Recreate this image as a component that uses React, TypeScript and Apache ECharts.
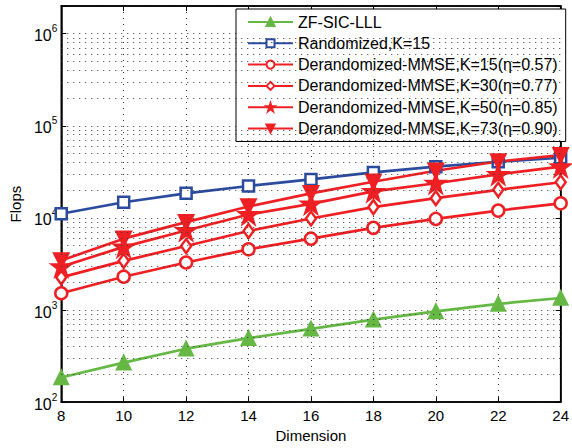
import React, { useEffect, useRef } from "react";
import * as echarts from "echarts";

const dims = [8, 10, 12, 14, 16, 18, 20, 22, 24];
const zfSicLll = [185, 268, 380, 495, 625, 785, 965, 1165, 1350];
const randomizedK15 = [11100, 14800, 18500, 22200, 26200, 31200, 36000, 40700, 45000];
const derandK15 = [1520, 2300, 3280, 4560, 5950, 7800, 9750, 12000, 14400];
const derandK30 = [2260, 3420, 4950, 7200, 9850, 13100, 16400, 20200, 24400];
const derandK50 = [2950, 4850, 7300, 10900, 14200, 19400, 23800, 29700, 36000];
const derandK73 = [3450, 5950, 9000, 13300, 18500, 24700, 32500, 41000, 48000];
const seriesNames = [
  "ZF-SIC-LLL",
  "Randomized,K=15",
  "Derandomized-MMSE,K=15(η=0.57)",
  "Derandomized-MMSE,K=30(η=0.77)",
  "Derandomized-MMSE,K=50(η=0.85)",
  "Derandomized-MMSE,K=73(η=0.90)",
];
const minorGridValues = [
  200, 300, 400, 500, 600, 700, 800, 900,
  2000, 3000, 4000, 5000, 6000, 7000, 8000, 9000,
  20000, 30000, 40000, 50000, 60000, 70000, 80000, 90000,
  200000, 300000, 400000, 500000, 600000, 700000, 800000, 900000,
];

const FONT = "'Liberation Sans', Arial, Helvetica, sans-serif";
const GREEN = "#66b845";
const BLUE = "#2a4b9e";
const RED = "#ee2024";
const GRID = { color: "#333", type: [1, 5] as number[], width: 1 };
const STAR =
  "path://M50,0 L61.2,34.5 L97.6,34.5 L68.2,55.9 L79.4,90.5 L50,69.1 L20.6,90.5 L31.8,55.9 L2.4,34.5 L38.8,34.5 Z";

export default function App() {
  const ref = useRef<HTMLDivElement>(null);
  useEffect(() => {
    document.body.style.margin = "0";
    const chart = echarts.init(ref.current!, undefined, { renderer: "svg" });
    const pts = (arr: number[]) => dims.map((d, i) => [d, arr[i]]);
    const mk = (
      name: string,
      data: number[],
      color: string,
      symbol: string,
      size: number | number[],
      filled: boolean,
      rotate = 0
    ) => ({
      name,
      type: "line",
      data: pts(data),
      symbol,
      symbolSize: size,
      symbolRotate: rotate,
      showAllSymbol: true,
      lineStyle: { color, width: 2.7 },
      itemStyle: {
        color: filled ? color : "#ffffff",
        borderColor: color,
        borderWidth: 2.5,
      },
      emphasis: { disabled: true },
      z: 3,
    });
    const ticksStyle = { lineStyle: { color: "#000", width: 1 } };
    chart.setOption({
      animation: false,
      backgroundColor: "#ffffff",
      grid: {
        left: 57,
        right: 5,
        top: 6,
        bottom: 43,
        show: true,
        borderColor: "#000",
        borderWidth: 1.5,
        backgroundColor: "#fff",
      },
      legend: {
        orient: "vertical",
        left: 236,
        top: 9,
        itemWidth: 45,
        itemHeight: 10,
        itemGap: 5.3,
        padding: [5, 8, 5, 11],
        backgroundColor: "#fff",
        borderColor: "#000",
        borderWidth: 1,
        textStyle: { fontSize: 16, fontFamily: FONT, color: "#000", lineHeight: 16 },
        data: seriesNames,
      },
      xAxis: [
        {
          type: "value",
          min: 8,
          max: 24,
          interval: 2,
          position: "bottom",
          name: "Dimension",
          nameLocation: "middle",
          nameGap: 24,
          nameTextStyle: { fontSize: 15, fontFamily: FONT, color: "#000" },
          axisLine: { show: true, lineStyle: { color: "#000", width: 1.5 } },
          axisTick: { inside: true, length: 5, ...ticksStyle },
          axisLabel: { fontSize: 15, fontFamily: FONT, color: "#000", margin: 6 },
          splitLine: { show: true, lineStyle: GRID },
        },
        {
          type: "value",
          min: 8,
          max: 24,
          interval: 2,
          position: "top",
          axisLine: { show: true, lineStyle: { color: "#000", width: 1.5 } },
          axisTick: { inside: true, length: 5, ...ticksStyle },
          axisLabel: { show: false },
          splitLine: { show: false },
        },
      ],
      yAxis: [
        {
          type: "log",
          logBase: 10,
          min: 100,
          max: 2000000,
          position: "left",
          name: "Flops",
          nameLocation: "middle",
          nameGap: 30,
          nameRotate: 90,
          nameTextStyle: { fontSize: 15, fontFamily: FONT, color: "#000" },
          axisLine: { show: true, lineStyle: { color: "#000", width: 1.5 } },
          axisTick: { inside: true, length: 5, ...ticksStyle },
          axisLabel: {
            margin: 4,
            color: "#000",
            fontFamily: FONT,
            formatter: (v: number) => {
              const e = Math.round(Math.log10(v));
              if (Math.abs(v - Math.pow(10, e)) > 1e-6 * v) return "";
              return `{b|10}{s|${e}}`;
            },
            rich: {
              b: { fontSize: 16, fontFamily: FONT, color: "#000", verticalAlign: "bottom", lineHeight: 20 },
              s: { fontSize: 10, fontFamily: FONT, color: "#000", verticalAlign: "top", lineHeight: 10 },
            },
          },
          splitLine: { show: true, lineStyle: GRID },
        },
        {
          type: "log",
          logBase: 10,
          min: 100,
          max: 2000000,
          position: "right",
          axisLine: { show: true, lineStyle: { color: "#000", width: 1.5 } },
          axisTick: { inside: true, length: 5, ...ticksStyle },
          axisLabel: { show: false },
          splitLine: { show: false },
        },
      ],
      series: [
        {
          name: "minor-grid",
          type: "line",
          data: [],
          silent: true,
          markLine: {
            silent: true,
            symbol: "none",
            label: { show: false },
            lineStyle: GRID,
            data: minorGridValues.map((v) => ({ yAxis: v })),
          },
          z: 1,
        },
        mk(seriesNames[0], zfSicLll, GREEN, "triangle", 13, true),
        mk(seriesNames[1], randomizedK15, BLUE, "rect", 11, false),
        mk(seriesNames[2], derandK15, RED, "circle", 12, false),
        mk(seriesNames[3], derandK30, RED, "diamond", [10, 14], false),
        mk(seriesNames[4], derandK50, RED, STAR, 18, true),
        mk(seriesNames[5], derandK73, RED, "triangle", 14, true, 180),
      ],
    });
    return () => chart.dispose();
  }, []);
  return (
    <div
      ref={ref}
      style={{ position: "absolute", left: 0, top: 0, width: 572, height: 448 }}
    />
  );
}
